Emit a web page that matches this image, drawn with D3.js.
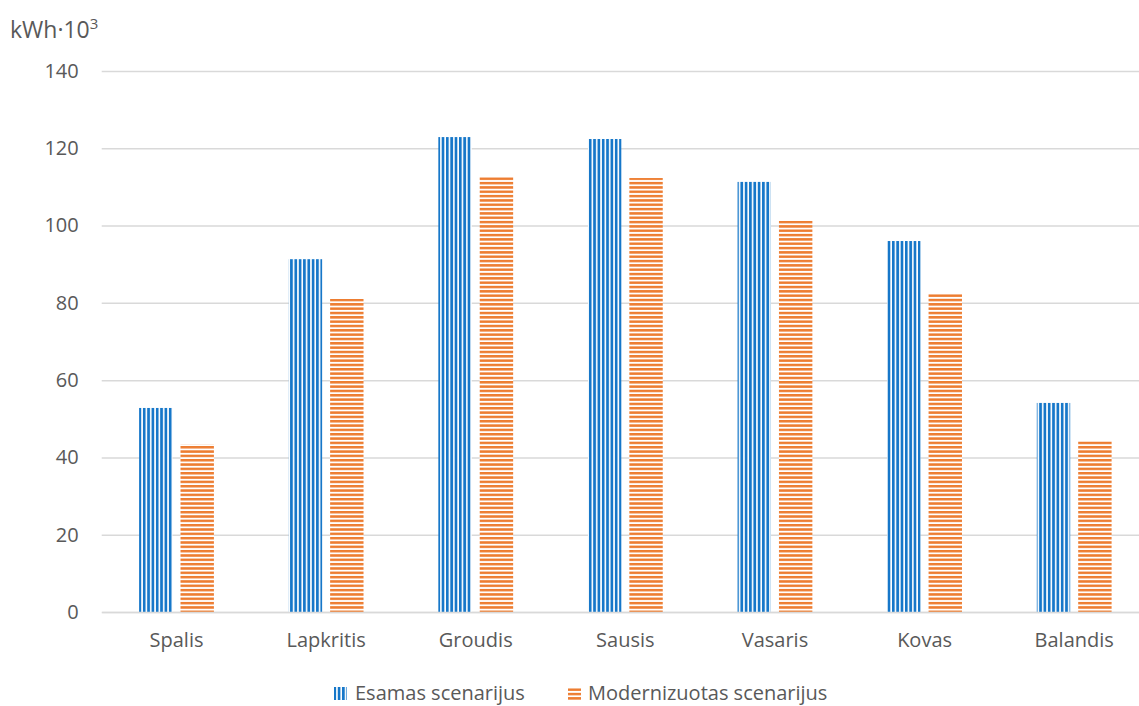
<!DOCTYPE html>
<html><head><meta charset="utf-8">
<script src="https://cdn.jsdelivr.net/npm/d3@7"></script>
<style>
html,body{margin:0;padding:0;background:#fff;overflow:hidden;}
svg{display:block;font-family:"Open Sans",Arial,sans-serif;}
</style></head>
<body>
<svg id="chart" width="1139" height="706"></svg>
<script>
const categories = ["Spalis","Lapkritis","Groudis","Sausis","Vasaris","Kovas","Balandis"];
const esamas = [52.8, 91.3, 122.9, 122.4, 111.3, 96.0, 54.1];
const modern = [43.4, 81.0, 112.8, 112.3, 101.2, 82.5, 44.2];
const seriesNames = ["Esamas scenarijus","Modernizuotas scenarijus"];
const yTicks = [0,20,40,60,80,100,120,140];

const svg = d3.select("#chart");
const W = 1139, H = 706;
const m = {left:101.7, top:71, bottom:94};
const plotRight = 1149;
const x = d3.scaleBand().domain(categories).range([m.left, plotRight]).paddingInner(0.5).paddingOuter(0.25);
const x1 = d3.scaleBand().domain([0,1]).range([0, x.bandwidth()]).paddingInner(0.193);
const y = d3.scaleLinear().domain([0,140]).range([H - m.bottom, m.top]);
const FONT = "Open Sans, Arial, sans-serif";

const defs = svg.append("defs");
const pb = defs.append("pattern").attr("id","pBlue").attr("patternUnits","userSpaceOnUse")
  .attr("width",4.33).attr("height",10);
pb.append("rect").attr("width",4.33).attr("height",10).attr("fill","#ffffff");
pb.append("rect").attr("x",0).attr("width",2.7).attr("height",10).attr("fill","#1677c9");
const po = defs.append("pattern").attr("id","pOrange").attr("patternUnits","userSpaceOnUse")
  .attr("width",10).attr("height",4.33);
po.append("rect").attr("width",10).attr("height",4.33).attr("fill","#ffffff");
po.append("rect").attr("y",0).attr("width",10).attr("height",2.5).attr("fill","#ed7d31");

// gridlines
const yAxis = d3.axisLeft(y).tickValues(yTicks).tickSize(-(plotRight - m.left)).tickPadding(23);
const gy = svg.append("g").attr("transform",`translate(${m.left},0)`).call(yAxis);
gy.select(".domain").remove();
gy.selectAll(".tick line").attr("stroke","#d9d9d9").attr("stroke-width",1.5);
gy.selectAll(".tick text").attr("fill","#595959").attr("font-size",20).attr("font-family",FONT);

// bars
const fills = ["url(#pBlue)","url(#pOrange)"];
const data = [esamas, modern];
data.forEach((vals, si) => {
  svg.append("g").selectAll("rect").data(vals).join("rect")
    .attr("x",(d,i)=> x(categories[i]) + x1(si))
    .attr("width", x1.bandwidth())
    .attr("y", d => y(d))
    .attr("height", d => y(0) - y(d))
    .attr("fill", fills[si]);
});

// x axis
const xAxis = d3.axisBottom(x).tickSize(0).tickPadding(21);
const gx = svg.append("g").attr("transform",`translate(0,${y(0)})`).call(xAxis);
gx.select(".domain").attr("stroke","#d9d9d9").attr("stroke-width",1.5);
gx.selectAll(".tick text").attr("fill","#595959").attr("font-size",20).attr("font-family",FONT);

// unit label
const ul = svg.append("text").attr("x",10).attr("y",38).attr("fill","#595959").attr("font-size",23);
ul.append("tspan").text("kWh·10");
ul.append("tspan").attr("font-size",15).attr("dy",-9).text("3");

// legend
const leg = svg.append("g");
const legItems = [{x:334, tx:355},{x:568, tx:588}];
legItems.forEach((it,i)=>{
  leg.append("rect").attr("x",it.x).attr("y",687).attr("width",13).attr("height",13).attr("fill",fills[i]);
  leg.append("text").attr("x",it.tx).attr("y",700).attr("fill","#595959").attr("font-size",20).text(seriesNames[i]);
});
</script>
</body></html>
